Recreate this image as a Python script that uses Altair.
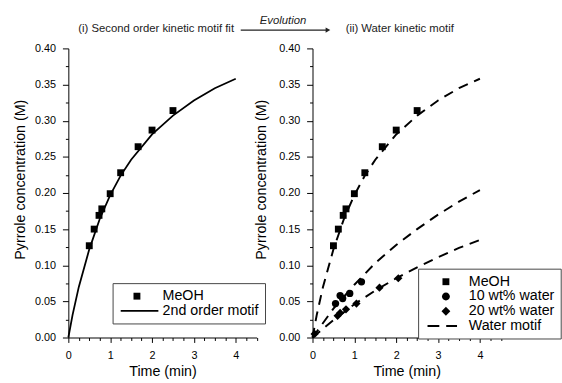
import altair as alt
import pandas as pd

# ---- data ----
meoh_t = [0.5, 0.617, 0.733, 0.8, 1.0, 1.25, 1.667, 2.0, 2.5]
meoh_c = [0.127, 0.150, 0.169, 0.178, 0.199, 0.228, 0.264, 0.287, 0.314]

w10_t = [0.55, 0.66, 0.72, 0.89, 1.17]
w10_c = [0.047, 0.058, 0.054, 0.061, 0.077]

w20_t = [0.05, 0.60, 0.66, 0.80, 1.05, 1.60, 2.05]
w20_c = [0.005, 0.030, 0.034, 0.039, 0.047, 0.069, 0.082]

fit_t = [0, 0.1, 0.25, 0.5, 0.75, 1.0, 1.25, 1.5, 2.0, 2.5, 3.0, 3.5, 4.0]
fit_c = [0, 0.031, 0.070, 0.122, 0.164, 0.197, 0.224, 0.246, 0.281, 0.307, 0.328, 0.345, 0.358]

wfit_t = [0, 0.5, 1.0, 1.5, 2.0, 2.5, 3.0, 3.5, 4.0]
w10fit_c = [0, 0.040, 0.073, 0.103, 0.128, 0.150, 0.170, 0.188, 0.204]
w20fit_c = [0, 0.024, 0.046, 0.065, 0.082, 0.097, 0.111, 0.124, 0.135]

left_series = ["MeOH", "2nd order motif"]
right_series = ["MeOH", "10 wt% water", "20 wt% water", "Water motif"]

x_ticks = [i * 0.25 for i in range(19)]
y_ticks = [round(i * 0.025, 3) for i in range(17)]

FONT = "Liberation Sans"
W, H = 191.5, 294

# legend glyphs (unit = 4 px), drawn as filled paths
left_glyphs = [
    "M2.0,-0.875H3.75V0.875H2.0Z",
    "M-1.25,-0.225H8.325V0.225H-1.25Z",
]
right_glyphs = [
    "M2.875,-0.875H4.625V0.875H2.875Z",
    "M4.75,0A1,1,0,1,1,2.75,0A1,1,0,1,1,4.75,0Z",
    "M3.75,-1.125L4.875,0L3.75,1.125L2.625,0Z",
    "M-0.925,-0.25H2.075V0.25H-0.925Z M3.825,-0.25H6.575V0.25H3.825Z",
]


def x_enc():
    return alt.X(
        "t:Q",
        scale=alt.Scale(domain=[0, 4.5], nice=False, zero=False),
        axis=alt.Axis(
            title="Time (min)", values=x_ticks,
            labelExpr="datum.value % 1 === 0 ? format(datum.value, 'd') : ''",
            tickSize={"condition": {"test": "datum.value % 1 === 0", "value": 5}, "value": 3},
            labelFlush=False, grid=False, labelPadding=7, titlePadding=5,
        ),
    )


def y_enc(title_x):
    return alt.Y(
        "c:Q",
        scale=alt.Scale(domain=[0, 0.4], nice=False),
        axis=alt.Axis(
            title="Pyrrole concentration (M)", values=y_ticks,
            labelExpr="round(datum.value*40) % 2 === 0 ? format(datum.value, '.2f') : ''",
            tickSize={"condition": {"test": "round(datum.value*40) % 2 === 0", "value": 6}, "value": 3},
            labelFlush=False, grid=False, labelPadding=7, titleX=title_x, titleY=133,
        ),
    )


def legend(x, y, offset):
    return alt.Legend(
        title=None, orient="none", legendX=x, legendY=y,
        strokeColor="#444", fillColor="white", padding=6,
        labelFontSize=14.5, labelFont=FONT, labelColor="black", labelOffset=offset,
        rowPadding=0, symbolSize=64, symbolStrokeWidth=0,
        symbolFillColor="black",
    )


one = pd.DataFrame({"k": [0]})

# ---------- left panel ----------
left_pts = pd.DataFrame({"t": meoh_t, "c": meoh_c})
left_fit = pd.DataFrame({"t": fit_t, "c": fit_c})
left_leg = pd.DataFrame({"lser": left_series})

left_line = alt.Chart(left_fit).mark_line(color="black", strokeWidth=1.8).encode(
    x=x_enc(), y=y_enc(-41.5))
left_points = alt.Chart(left_pts).mark_point(
    shape="square", filled=True, color="black", opacity=1, size=49).encode(
    x=x_enc(), y=y_enc(-41.5))
left_legend = alt.Chart(left_leg).transform_filter("false").mark_point(
    filled=True, color="black", opacity=1).encode(
    shape=alt.Shape("lser:N", scale=alt.Scale(domain=left_series, range=left_glyphs),
                    legend=legend(45, 238.7, 30.3)))

title_left = alt.Chart(one).mark_text(
    text="(i) Second order kinetic motif fit", font=FONT, fontSize=11.5, color="#222",
    align="center", baseline="middle").encode(x=alt.value(89.3), y=alt.value(-19.3))
evo_text = alt.Chart(one).mark_text(
    text="Evolution", font=FONT, fontSize=11.5, fontStyle="italic", color="#222",
    align="center", baseline="middle").encode(x=alt.value(218.3), y=alt.value(-27.5))
arrow_line = alt.Chart(one).mark_rule(color="#222", strokeWidth=1.5).encode(
    x=alt.value(175.3), x2=alt.value(262), y=alt.value(-18.6))
arrow_head = alt.Chart(one).mark_point(shape="triangle-right", filled=True, color="#222",
                                       size=30, opacity=1).encode(
    x=alt.value(264), y=alt.value(-18.6))

left = alt.layer(left_line, left_points, left_legend, title_left, evo_text,
                 arrow_line, arrow_head).properties(width=W, height=H)

# ---------- right panel ----------
right_fit = pd.concat([
    pd.DataFrame({"t": fit_t, "c": fit_c, "curve": "MeOH"}),
    pd.DataFrame({"t": wfit_t, "c": w10fit_c, "curve": "10 wt%"}),
    pd.DataFrame({"t": wfit_t, "c": w20fit_c, "curve": "20 wt%"}),
])
right_leg = pd.DataFrame({"rser": right_series})

right_lines = alt.Chart(right_fit).mark_line(
    color="black", strokeWidth=2, strokeDash=[10, 7]).encode(
    x=x_enc(), y=y_enc(-44.3), detail="curve:N")
pts_meoh = alt.Chart(pd.DataFrame({"t": meoh_t, "c": meoh_c})).mark_point(
    shape="square", filled=True, color="black", opacity=1, size=49).encode(
    x=x_enc(), y=y_enc(-44.3))
pts_w10 = alt.Chart(pd.DataFrame({"t": w10_t, "c": w10_c})).mark_point(
    shape="circle", filled=True, color="black", opacity=1, size=55).encode(
    x=x_enc(), y=y_enc(-44.3))
pts_w20 = alt.Chart(pd.DataFrame({"t": w20_t, "c": w20_c})).mark_point(
    shape="diamond", filled=True, color="black", opacity=1, size=70).encode(
    x=x_enc(), y=y_enc(-44.3))
right_legend = alt.Chart(right_leg).transform_filter("false").mark_point(
    filled=True, color="black", opacity=1).encode(
    shape=alt.Shape("rser:N", scale=alt.Scale(domain=right_series, range=right_glyphs),
                    legend=legend(107.4, 224, 31)))
title_right = alt.Chart(one).mark_text(
    text="(ii) Water kinetic motif", font=FONT, fontSize=11.5, color="#222",
    align="left", baseline="middle").encode(x=alt.value(33.7), y=alt.value(-19.3))

right = alt.layer(right_lines, pts_meoh, pts_w10, pts_w20, right_legend,
                  title_right).properties(width=W, height=H)

chart = alt.hconcat(left, right, spacing=56.3, bounds="flush").resolve_scale(
    shape="independent"
).resolve_legend(shape="independent").properties(
    padding={"left": 12.5, "top": 12, "right": 0, "bottom": 0}
).configure_view(stroke=None).configure_axis(
    labelFont=FONT, titleFont=FONT, labelFontSize=11, titleFontSize=14.5,
    labelColor="black", titleColor="black", domainColor="black", tickColor="black",
    titleFontWeight="normal", domainWidth=1, tickWidth=1,
)

chart.save("out.html", embed_options={"renderer": "svg", "actions": False})
